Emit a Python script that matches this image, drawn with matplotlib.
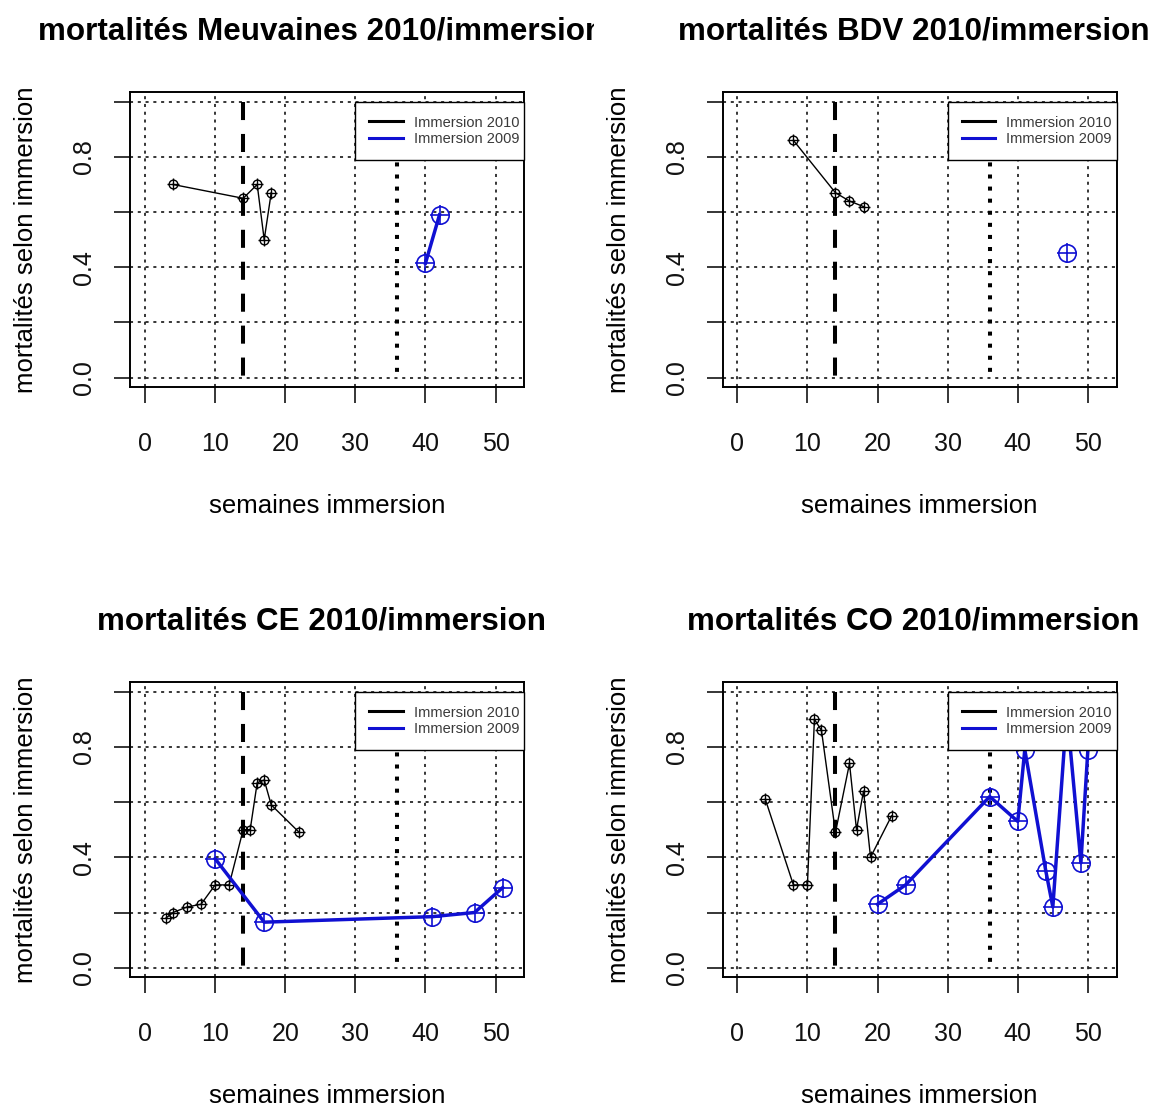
import matplotlib
matplotlib.use("Agg")
import matplotlib.pyplot as plt
from matplotlib.lines import Line2D
from matplotlib.transforms import Bbox

plt.rcParams['font.family'] = ['Liberation Sans', 'DejaVu Sans']
plt.rcParams['lines.scale_dashes'] = False

# ---------------- data ----------------
titles = ["mortalités Meuvaines 2010/immersion", "mortalités BDV 2010/immersion",
          "mortalités CE 2010/immersion", "mortalités CO 2010/immersion"]
xlabel = "semaines immersion"
ylabel = "mortalités selon immersion"
legend_labels = ["Immersion 2010", "Immersion 2009"]

x_ticks = [0, 10, 20, 30, 40, 50]
x_ticklabels = ["0", "10", "20", "30", "40", "50"]
y_ticks = [0.0, 0.2, 0.4, 0.6, 0.8, 1.0]
y_ticklabels = ["0.0", "", "0.4", "", "0.8", ""]

vline_2010 = 14
vline_2009 = 36

# Meuvaines
meu_w2010 = [4, 14, 16, 17, 18]
meu_m2010 = [0.70, 0.65, 0.70, 0.50, 0.67]
meu_w2009 = [40, 42]
meu_m2009 = [0.415, 0.59]
# BDV
bdv_w2010 = [8, 14, 16, 18]
bdv_m2010 = [0.86, 0.67, 0.64, 0.62]
bdv_w2009 = [47]
bdv_m2009 = [0.45]
# CE
ce_w2010 = [3, 4, 6, 8, 10, 12, 14, 15, 16, 17, 18, 22]
ce_m2010 = [0.18, 0.20, 0.22, 0.23, 0.30, 0.30, 0.50, 0.50, 0.67, 0.68, 0.59, 0.49]
ce_w2009 = [10, 17, 41, 47, 51]
ce_m2009 = [0.395, 0.165, 0.185, 0.20, 0.29]
# CO
co_w2010 = [4, 8, 10, 11, 12, 14, 16, 17, 18, 19, 22]
co_m2010 = [0.61, 0.30, 0.30, 0.90, 0.86, 0.49, 0.74, 0.50, 0.64, 0.40, 0.55]
co_w2009 = [20, 24, 36, 40, 41, 44, 45, 47, 49, 50]
co_m2009 = [0.23, 0.30, 0.62, 0.53, 0.79, 0.35, 0.22, 0.93, 0.38, 0.79]

panels = [
    (titles[0], meu_w2010, meu_m2010, meu_w2009, meu_m2009),
    (titles[1], bdv_w2010, bdv_m2010, bdv_w2009, bdv_m2009),
    (titles[2], ce_w2010, ce_m2010, ce_w2009, ce_m2009),
    (titles[3], co_w2010, co_m2010, co_w2009, co_m2009),
]

# ---------------- layout ----------------
W, H = 1155, 1106
fig = plt.figure(figsize=(W / 100, H / 100), dpi=100)

XLIM = (-2.08, 54.08)
YLIM = (-0.035, 1.035)
PXX = 7.012   # px per week
PXY = 276.0   # px per unit mortality
x0_cols = [145.0, 737.3]
y0_rows = [377.7, 967.7]
w_px = (XLIM[1] - XLIM[0]) * PXX
h_px = (YLIM[1] - YLIM[0]) * PXY

BLUE = '#1010D2'
TICK_FS = 18
LAB_FS = 18.5

for i, (title, w10, m10, w09, m09) in enumerate(panels):
    r, c = divmod(i, 2)
    left = x0_cols[c] + XLIM[0] * PXX
    top = y0_rows[r] - YLIM[1] * PXY
    ax = fig.add_axes([left / W, 1 - (top + h_px) / H, w_px / W, h_px / H])
    ax.set_xlim(*XLIM)
    ax.set_ylim(*YLIM)

    # grid
    ax.set_xticks(x_ticks)
    ax.set_xticklabels(x_ticklabels)
    ax.set_yticks(y_ticks)
    ax.set_yticklabels(y_ticklabels)
    ax.grid(True, color='black', linewidth=1.1, linestyle=(0, (2.2, 3.4)))
    ax.set_axisbelow(True)

    for s in ax.spines.values():
        s.set_linewidth(1.4)
        s.set_color('black')
    ax.tick_params(axis='both', direction='out', length=11.5, width=1.1,
                   color='black', labelsize=TICK_FS, labelcolor='#111111')
    ax.tick_params(axis='x', pad=21)
    ax.tick_params(axis='y', pad=13, labelrotation=90)
    for lab in ax.get_yticklabels():
        lab.set_verticalalignment('center')

    # vertical reference lines
    ax.plot([vline_2010, vline_2010], [1, 0], color='black', linewidth=2.9,
            linestyle=(0, (13, 10)), zorder=3)
    ax.plot([vline_2009, vline_2009], [1, 0], color='black', linewidth=2.9,
            linestyle=(0, (2.9, 5.8)), zorder=3)

    # 2010 series (black, small circled plus)
    ax.plot(w10, m10, color='black', linewidth=1.0, marker='o', markersize=6.3,
            fillstyle='none', markeredgewidth=1.0, zorder=4)
    ax.plot(w10, m10, linestyle='none', color='black', marker='+', markersize=8.5,
            markeredgewidth=1.0, zorder=4)
    # 2009 series (blue, large circled plus)
    ax.plot(w09, m09, color=BLUE, linewidth=2.5, marker='o', markersize=12.5,
            fillstyle='none', markeredgewidth=1.2, zorder=4)
    ax.plot(w09, m09, linestyle='none', color=BLUE, marker='+', markersize=14,
            markeredgewidth=1.2, zorder=4)

    # legend anchored at x=30, y=1 extending to right edge
    xa = (30 - XLIM[0]) / (XLIM[1] - XLIM[0])
    ya = (1.0 - YLIM[0]) / (YLIM[1] - YLIM[0])
    handles = [Line2D([], [], color='black', linewidth=2.2),
               Line2D([], [], color=BLUE, linewidth=2.2)]
    leg = ax.legend(handles, legend_labels, loc='upper left',
                    bbox_to_anchor=(xa, 0.0, 1 - xa, ya), bbox_transform=ax.transAxes,
                    mode='expand', borderaxespad=0, fontsize=10.5,
                    handlelength=2.3, handletextpad=0.75, borderpad=0.95,
                    labelspacing=0.2, fancybox=False, framealpha=1, frameon=True)
    leg.get_frame().set_edgecolor('black')
    leg.get_frame().set_linewidth(1.0)
    for t in leg.get_texts():
        t.set_color('#3a3a3a')
    leg.set_zorder(6)

    # labels
    ax.set_xlabel(xlabel, fontsize=LAB_FS)
    ax.xaxis.set_label_coords(0.5, -(494.0 - 387.4) / h_px)
    ax.set_ylabel(ylabel, fontsize=LAB_FS)
    ax.yaxis.set_label_coords((38.5 - (145.0 + XLIM[0] * PXX)) / w_px, 0.5)

    t = ax.set_title(title, fontsize=22.6, fontweight='bold', pad=0,
                     y=1 + 53.0 / h_px)
    t.set_x(0.5 - 6.0 / w_px)
    if i == 0:
        t.set_clip_on(True)
        t.set_clip_box(Bbox([[0, 0], [594, H]]))

fig.savefig("out.png", dpi=100)
